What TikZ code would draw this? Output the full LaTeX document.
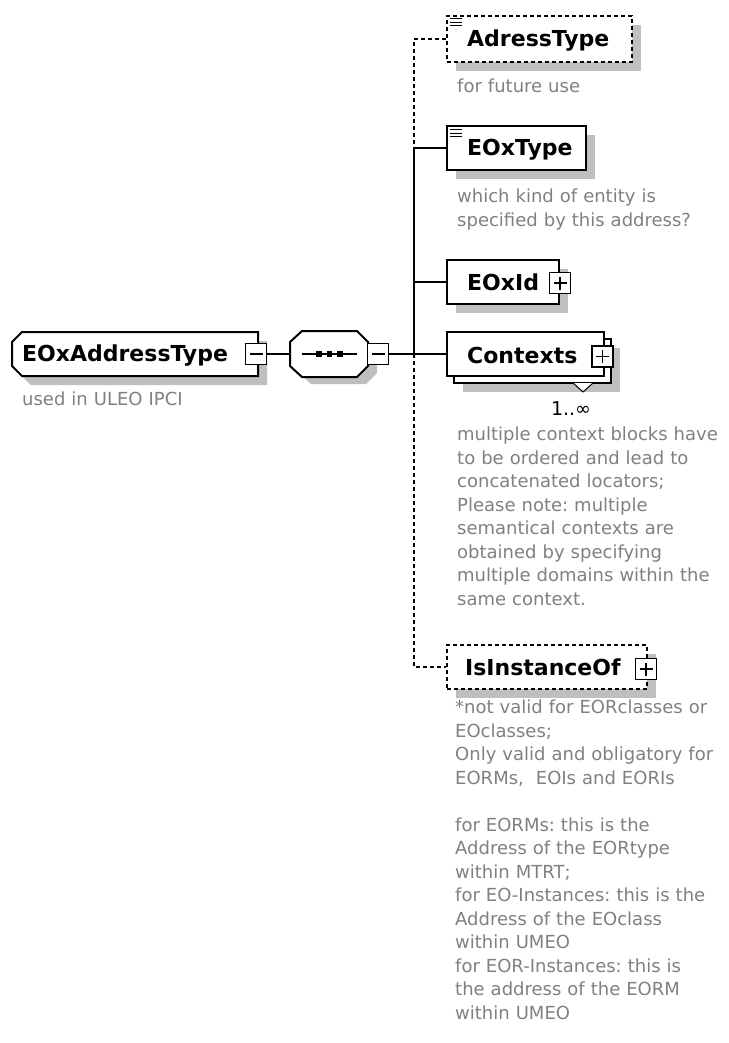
\documentclass[tikz,border=0pt]{standalone}
\usepackage{fontspec}
\setmainfont{DejaVu Sans}
\usetikzlibrary{shadows}
\frenchspacing
\begin{document}
\begin{tikzpicture}[x=1pt,y=-1pt,
  ln/.style={line width=2pt, black},
  dashln/.style={line width=2pt, black, dash pattern=on 4pt off 3pt},
  shadefill/.style={fill=black!25, draw=none},
  elem/.style={rectangle, draw, line width=2pt, fill=white, inner sep=0pt,
    drop shadow={shadow xshift=9pt, shadow yshift=-9pt, fill=black!25, opacity=1}},
  optelem/.style={elem, dash pattern=on 4pt off 3pt},
  plainelem/.style={rectangle, draw, line width=2pt, fill=white, inner sep=0pt},
  pmbox/.style={rectangle, draw, line width=1.6pt, fill=white, minimum size=21pt, inner sep=0pt},
  pmminus/.style={pmbox, path picture={\draw[line width=1.6pt]
      ([xshift=-6.5pt]path picture bounding box.center) -- ([xshift=6.5pt]path picture bounding box.center);}},
  pmplus/.style={pmbox, path picture={\draw[line width=1.6pt]
      ([xshift=-6.5pt]path picture bounding box.center) -- ([xshift=6.5pt]path picture bounding box.center)
      ([yshift=-6.5pt]path picture bounding box.center) -- ([yshift=6.5pt]path picture bounding box.center);}},
  title/.style={font=\fontsize{22}{24}\selectfont\bfseries, anchor=base west, inner sep=0pt},
  desc/.style={font=\fontsize{18}{23.5}\selectfont, text=black!50, anchor=base west, inner sep=0pt,
    align=left, text width=300pt},
  icon/.style={line width=1pt, black}
]
\useasboundingbox (0,0) rectangle (728,1043);

% ---------- root element ----------
\fill[shadefill] (31,341) -- (267,341) -- (267,385) -- (31,385) -- (21,375) -- (21,351) -- cycle;
\draw[ln, fill=white] (22,332) -- (258,332) -- (258,376) -- (22,376) -- (12,366) -- (12,342) -- cycle;
\coordinate (rootR) at (258,354);
\node[title] (roottxt) at (22,361) {EOxAddressType};
\node[pmminus] (rootpm) at (256,354) {};
\node[desc] (rootdesc) at (22,405.5) {used in ULEO IPCI};

% ---------- sequence compositor ----------
\fill[shadefill] (311,340) -- (366,340) -- (377,351) -- (377,373) -- (366,384) -- (311,384) -- (299,373) -- (299,351) -- cycle;
\draw[ln, fill=white] (302,331) -- (357,331) -- (368,342) -- (368,366) -- (357,377) -- (302,377) -- (290,366) -- (290,342) -- cycle;
\coordinate (seqL) at (290,354);
\draw[line width=1.6pt] (302,354) -- (357,354);
\node[rectangle, fill=black, minimum size=5.5pt, inner sep=0pt] (sq1) at (319,354) {};
\node[rectangle, fill=black, minimum size=5.5pt, inner sep=0pt] (sq2) at (329.5,354) {};
\node[rectangle, fill=black, minimum size=5.5pt, inner sep=0pt] (sq3) at (340,354) {};
\node[pmminus] (seqpm) at (378,354) {};

% ---------- bus coordinates ----------
\coordinate (busTop) at (414,39);
\coordinate (busA) at (414,148);
\coordinate (busB) at (414,282);
\coordinate (busC) at (414,354);
\coordinate (busBot) at (414,667);

% ---------- AdressType (optional) ----------
\node[optelem, minimum width=185pt, minimum height=46pt] (adr) at (539.5,39) {};
\draw[icon] (450,19) -- (462,19) (450,22.5) -- (462,22.5) (450,26) -- (462,26);
\node[title] (adrtxt) at (467,47) {AdressType};
\node[desc] (adrdesc) at (457,92.5) {for future use};

% ---------- EOxType ----------
\node[elem, minimum width=139pt, minimum height=44pt] (eoxtype) at (516.5,148) {};
\draw[icon] (450,130) -- (462,130) (450,133.5) -- (462,133.5) (450,137) -- (462,137);
\node[title] (eoxtypetxt) at (467,156) {EOxType};
\node[desc] (eoxtypedesc) at (457,202.5) {which kind of entity is\\specified by this address?};

% ---------- EOxId ----------
\node[elem, minimum width=112pt, minimum height=44pt] (eoxid) at (503,282) {};
\node[title] (eoxidtxt) at (467,290) {EOxId};
\node[pmplus] (eoxidpm) at (560,283) {};

% ---------- Contexts (1..inf) ----------
\node[elem, minimum width=157pt, minimum height=44pt] (ctxback) at (532.5,361) {};
\draw[line width=1pt, fill=white] (573,383) -- (583,392) -- (593,383);
\node[plainelem, minimum width=157pt, minimum height=44pt] (contexts) at (525.5,354) {};
\node[title] (contextstxt) at (467,363) {Contexts};
\node[pmplus] (contextspm) at (602.5,356.5) {};
\node[font=\fontsize{19}{22}\selectfont, anchor=base, inner sep=0pt] (mult) at (571,415) {1..∞};
\node[desc] (contextsdesc) at (457,440.5) {multiple context blocks have\\to be ordered and lead to\\concatenated locators;\\Please note: multiple\\semantical contexts are\\obtained by specifying\\multiple domains within the\\same context.};

% ---------- IsInstanceOf (optional) ----------
\node[optelem, minimum width=200pt, minimum height=44pt] (isinst) at (547,667) {};
\node[title] (isinsttxt) at (465,675) {IsInstanceOf};
\node[pmplus] (isinstpm) at (646,669) {};
\node[desc] (isinstdesc) at (455,713.5) {*not valid for EORclasses or\\EOclasses;\\Only valid and obligatory for\\EORMs,\ \ EOIs and EORIs\\[23.5pt]for EORMs: this is the\\Address of the EORtype\\within MTRT;\\for EO-Instances: this is the\\Address of the EOclass\\within UMEO\\for EOR-Instances: this is\\the address of the EORM\\within UMEO};

% ---------- connectors ----------
\draw[ln] (rootpm.east) -- (seqL);
\draw[ln] (seqpm.east) -- (contexts.west);
\draw[dashln] (adr.west) -- (busTop) -- (busA);
\draw[ln] (busA) -- (busC);
\draw[ln] (busA) -- (eoxtype.west);
\draw[ln] (busB) -- (eoxid.west);
\draw[dashln] (busC) -- (busBot) -- (isinst.west);
\end{tikzpicture}
\end{document}
